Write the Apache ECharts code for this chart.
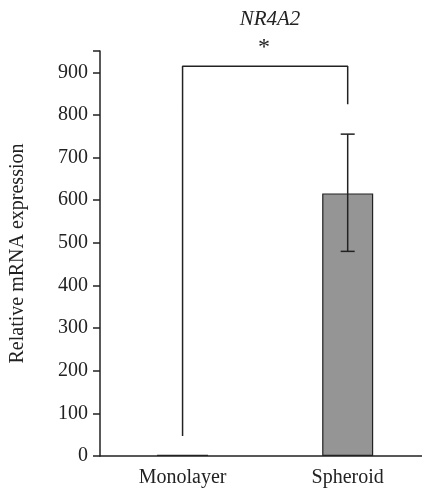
<!DOCTYPE html>
<html><head><meta charset="utf-8">
<script src="https://cdn.jsdelivr.net/npm/echarts@6/dist/echarts.min.js"></script>
<style>html,body{margin:0;background:#fff}#c{width:422px;height:500px}</style>
</head><body><div id="c"></div>
<script>
const categories = ['Monolayer', 'Spheroid'];
const values = [3, 616];
const errLow = [3, 480];
const errHigh = [3, 755];
const bracket = [[0, 47], [0, 914], [1, 914], [1, 825]];

const font = 'Liberation Serif';
const chart = echarts.init(document.getElementById('c'));
chart.setOption({
  animation: false,
  title: {
    text: 'NR4A2', left: 265, top: 4, textAlign: 'center',
    textStyle: { fontFamily: font, fontStyle: 'italic', fontWeight: 'normal', fontSize: 21, color: '#222' }
  },
  grid: { left: 100, right: 0, top: 51, bottom: 44 },
  xAxis: {
    type: 'value', min: -0.5, max: 1.45,
    axisLine: { onZero: false, lineStyle: { color: '#222', width: 1.5 } },
    axisTick: { show: false },
    splitLine: { show: false },
    axisLabel: { customValues: [0, 1], fontFamily: font, fontSize: 20, color: '#222', margin: 12,
      formatter: v => categories[Math.round(v)] || '' }
  },
  yAxis: {
    type: 'value', min: 0, max: 950, interval: 100,
    name: 'Relative mRNA expression', nameLocation: 'middle', nameGap: 72,
    nameTextStyle: { fontFamily: font, fontSize: 20, color: '#222' },
    axisLine: { show: true, onZero: false, lineStyle: { color: '#222', width: 1.5 } },
    axisTick: { show: true, length: 7, lineStyle: { color: '#222', width: 1.5 } },
    axisLabel: { fontFamily: font, fontSize: 20, color: '#222', margin: 12,
      formatter: v => v > 900 ? '' : v },
    splitLine: { show: false }
  },
  series: [
    {
      type: 'bar', data: values.map((v, i) => [i, v]), barWidth: 51,
      itemStyle: { color: '#959595', borderColor: '#222', borderWidth: 1.2 }
    },
    {
      type: 'custom',
      renderItem: (params, api) => {
        const i = params.dataIndex;
        if (errHigh[i] === errLow[i]) return null;
        const top = api.coord([i, errHigh[i]]);
        const bot = api.coord([i, errLow[i]]);
        const s = { stroke: '#222', lineWidth: 1.5 };
        return { type: 'group', children: [
          { type: 'line', shape: { x1: top[0], y1: top[1], x2: bot[0], y2: bot[1] }, style: s },
          { type: 'line', shape: { x1: top[0] - 7, y1: top[1], x2: top[0] + 7, y2: top[1] }, style: s },
          { type: 'line', shape: { x1: bot[0] - 7, y1: bot[1], x2: bot[0] + 7, y2: bot[1] }, style: s }
        ] };
      },
      data: categories.map((c, i) => [i, errHigh[i]]),
      z: 5
    },
    {
      type: 'line', data: bracket, symbol: 'none',
      lineStyle: { color: '#222', width: 1.5 }
    }
  ],
  graphic: [{
    type: 'text', left: 258, top: 36,
    style: { text: '*', fontFamily: font, fontSize: 24, fill: '#222' }
  }]
});
</script></body></html>
